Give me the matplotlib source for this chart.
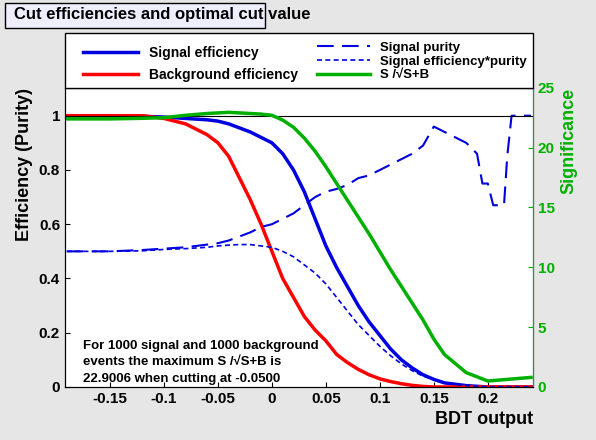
import matplotlib.pyplot as plt
from matplotlib.patches import Rectangle

plt.rcParams['font.family'] = ['Liberation Sans', 'DejaVu Sans']
plt.rcParams['font.weight'] = 'bold'

# BDT cut values and curves
cut_s = [-0.19, -0.15, -0.12, -0.1, -0.08, -0.06, -0.05, -0.04, -0.03, -0.02, -0.01, 0.0, 0.01, 0.02,
         0.03, 0.04, 0.05, 0.06, 0.07, 0.08, 0.09, 0.1, 0.11, 0.12, 0.13, 0.14, 0.15, 0.16, 0.18, 0.2, 0.24]
sig_eff = [1.0, 1.0, 0.998, 0.995, 0.99, 0.985, 0.98, 0.97, 0.955, 0.94, 0.92, 0.9, 0.86, 0.8,
           0.72, 0.62, 0.52, 0.44, 0.37, 0.3, 0.24, 0.19, 0.14, 0.1, 0.07, 0.045, 0.028, 0.015, 0.005, 0.0, 0.0]
bkg_eff = [1.0, 1.0, 1.0, 0.99, 0.97, 0.93, 0.9, 0.85, 0.77, 0.69, 0.6, 0.5, 0.4, 0.33,
           0.26, 0.21, 0.17, 0.12, 0.09, 0.065, 0.045, 0.03, 0.02, 0.012, 0.006, 0.002, 0.0, 0.0, 0.0, 0.0, 0.0]
purity = [0.5, 0.5, 0.505, 0.51, 0.515, 0.525, 0.53, 0.54, 0.555, 0.57, 0.59, 0.6, 0.62, 0.64,
          0.67, 0.7, 0.72, 0.73, 0.745, 0.77, 0.78, 0.8, 0.82, 0.84, 0.86, 0.89, 0.96, 0.94, 0.92, 0.75, 0.95]
eff_pur = [0.5, 0.5, 0.502, 0.507, 0.51, 0.515, 0.52, 0.523, 0.525, 0.525, 0.52, 0.515, 0.5, 0.48,
           0.45, 0.42, 0.38, 0.33, 0.28, 0.23, 0.19, 0.15, 0.115, 0.085, 0.06, 0.04, 0.027, 0.014, 0.005, 0.0, 0.0]
cut_p = [0.15, 0.16, 0.17, 0.18, 0.19, 0.195, 0.2, 0.205, 0.215, 0.218, 0.222, 0.24]
pur_tail = [0.96, 0.94, 0.92, 0.9, 0.86, 0.75, 0.75, 0.67, 0.67, 0.85, 1.0, 1.0]
signif = [22.4, 22.4, 22.45, 22.5, 22.7, 22.85, 22.9, 22.95, 22.9, 22.85, 22.8, 22.7, 22.3, 21.7,
          20.8, 19.7, 18.4, 17.0, 15.6, 14.2, 12.8, 11.3, 9.8, 8.4, 7.0, 5.6, 4.0, 2.7, 1.2, 0.5, 0.8]
y_ticks = [0, 0.2, 0.4, 0.6, 0.8, 1]
y_labels = ['0', '0.2', '0.4', '0.6', '0.8', '1']

fig = plt.figure(figsize=(5.96, 4.40), dpi=100)
fig.patch.set_facecolor('#e6e6e6')
ax = fig.add_axes([0.109, 0.1205, 0.785, 0.68])

l1, = ax.plot(cut_s, sig_eff, color='#0000e0', lw=2.5, label='Signal efficiency')
l2, = ax.plot(cut_s, bkg_eff, color='#ff0000', lw=2.5, label='Background efficiency')
l3, = ax.plot(cut_s[:26] + cut_p, purity[:26] + pur_tail, color='#0000e0', lw=1.5,
              ls=(0, (8, 4)), label='Signal purity')
l4, = ax.plot(cut_s, eff_pur, color='#0000e0', lw=1.2, ls=(0, (3, 2)), label='Signal efficiency*purity')
ax.axhline(1.0, color='black', lw=0.8)
ax.set_xlim(-0.1917, 0.2417)
ax.set_ylim(0, 1.103)
ax.set_xticks([-0.15, -0.1, -0.05, 0, 0.05, 0.1, 0.15, 0.2])
ax.set_xticklabels(['-0.15', '-0.1', '-0.05', '0', '0.05', '0.1', '0.15', '0.2'])
ax.set_yticks(y_ticks)
ax.set_yticklabels(y_labels)
ax.tick_params(direction='in', labelsize=11, top=False)
ax.set_xlabel('BDT output', fontsize=13, fontweight='bold', loc='right')
ax.set_ylabel('Efficiency (Purity)', fontsize=13, fontweight='bold', loc='top')

ax2 = ax.twinx()
l5, = ax2.plot(cut_s, signif, color='#00b000', lw=2.5, label='S /\u221aS+B')
ax2.set_ylim(0, 25)
ax2.tick_params(direction='in', colors='#00b000', labelsize=11)
ax2.spines['right'].set_color('#00b000')
ax2.set_ylabel('Significance', color='#00b000', fontsize=13, fontweight='bold', loc='top')

ax.text(-0.175, 0.02, 'For 1000 signal and 1000 background\nevents the maximum S /\u221aS+B is\n'
        '22.9006 when cutting at -0.0500', fontsize=9.5, fontweight='bold', linespacing=1.5)

# title and legend boxes
fig.patches.append(Rectangle((5 / 596, 1 - 28 / 440), 260 / 596, 25 / 440, transform=fig.transFigure,
                             facecolor='#eeeeff', edgecolor='black', lw=1))
fig.text(14 / 596, 1 - 15 / 440, 'Cut efficiencies and optimal cut value', fontsize=12,
         fontweight='bold', va='center')
fig.patches.append(Rectangle((65 / 596, 1 - 88 / 440), 468 / 596, 55 / 440, transform=fig.transFigure,
                             facecolor='white', edgecolor='black', lw=1))
fig.legend(handles=[l1, l2], loc='upper left', bbox_to_anchor=(70 / 596, 1 - 33 / 440), frameon=False,
           fontsize=10, handlelength=4, labelspacing=0.6)
fig.legend(handles=[l3, l4, l5], loc='upper left', bbox_to_anchor=(305 / 596, 1 - 30 / 440), frameon=False,
           fontsize=9.5, handlelength=4, labelspacing=0.1)

fig.savefig('out.png', dpi=100, facecolor=fig.get_facecolor())
